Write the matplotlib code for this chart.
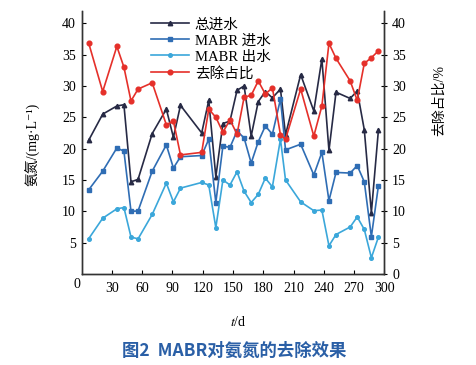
import matplotlib
matplotlib.use("Agg")
import matplotlib.pyplot as plt

plt.rcParams['font.family'] = ['Liberation Serif', 'Noto Sans CJK SC', 'DejaVu Sans']
plt.rcParams['mathtext.fontset'] = 'stix'
plt.rcParams['axes.unicode_minus'] = False

# sampling day
days = [7, 21, 35, 42, 49, 56, 70, 84, 91, 98, 119, 126, 133, 140, 147, 154, 161,
        168, 175, 182, 189, 197, 202, 217, 230, 238, 245, 252, 266, 273, 280, 287, 294]

# ammonia nitrogen, mg/L
total_in = [21.3, 25.5, 26.8, 27.0, 14.7, 15.1, 22.4, 26.3, 21.8, 26.9, 22.5, 27.7, 15.5,
            24.0, 24.4, 29.3, 30.0, 22.0, 27.5, 29.1, 28.1, 29.5, 22.2, 31.8, 26.0, 34.3,
            19.7, 29.0, 28.0, 29.2, 23.0, 9.8, 23.0]
mabr_in = [13.4, 16.4, 20.1, 19.6, 10.0, 10.05, 16.4, 20.6, 16.9, 18.7, 18.9, 21.5, 11.4,
           20.4, 20.2, 22.8, 21.7, 17.7, 21.1, 23.6, 22.3, 27.9, 19.8, 20.7, 15.8, 19.4,
           11.7, 16.2, 16.1, 17.3, 14.7, 5.95, 14.1]
mabr_out = [5.6, 8.9, 10.4, 10.6, 5.9, 5.6, 9.5, 14.5, 11.5, 13.7, 14.6, 14.2, 7.4,
            15.0, 14.2, 16.3, 13.2, 11.4, 12.7, 15.3, 13.9, 21.5, 15.0, 11.5, 10.1, 10.2,
            4.5, 6.3, 7.5, 9.1, 7.1, 2.6, 5.9]
# removal share, %
removal = [36.9, 29.1, 36.3, 33.0, 27.6, 29.5, 30.5, 23.8, 24.4, 19.0, 19.4, 26.3, 25.0,
           22.6, 24.6, 22.3, 28.2, 28.5, 30.8, 28.7, 29.7, 22.2, 21.5, 29.5, 22.0, 26.8,
           36.8, 34.4, 30.8, 27.7, 33.6, 34.5, 35.6]

x_ticks = [30, 60, 90, 120, 150, 180, 210, 240, 270, 300]
y_left_ticks = [5, 10, 15, 20, 25, 30, 35, 40]
y_right_ticks = [0, 5, 10, 15, 20, 25, 30, 35, 40]

W, H = 477, 365
fig = plt.figure(figsize=(W / 100, H / 100), dpi=100)
ax = fig.add_axes([81.5 / W, 1 - 274 / H, 303 / W, 263.3 / H])
ax2 = ax.twinx()

c_black = "#272a45"
c_dark = "#2f6db4"
c_light = "#3ba7da"
c_red = "#e5302a"

l1, = ax.plot(days, total_in, color=c_black, lw=1.2, marker='^', ms=3.2, label="总进水")
l2, = ax.plot(days, mabr_in, color=c_dark, lw=1.2, marker='s', ms=3.3, label="MABR 进水")
l3, = ax.plot(days, mabr_out, color=c_light, lw=1.2, marker='o', ms=2.6, label="MABR 出水")
l4, = ax2.plot(days, removal, color=c_red, lw=1.2, marker='o', ms=3.4, label="去除占比")

for a in (ax, ax2):
    a.set_xlim(0, 300)
    a.set_ylim(0, 42)
    a.spines['top'].set_visible(False)
    for s in a.spines.values():
        s.set_color("#333333")
        s.set_linewidth(1.0)

ax.set_xticks(x_ticks)
ax.set_yticks(y_left_ticks)
ax.tick_params(axis='x', direction='in', length=3, labelsize=10, pad=6)
ax.tick_params(axis='y', direction='in', length=3, labelsize=10, pad=4)
ax2.set_yticks(y_right_ticks)
ax2.tick_params(axis='y', direction='inout', length=5, labelsize=10, pad=3)

# shared origin label
fig.text(77 / W, 1 - 285 / H, "0", ha='center', va='center', fontsize=10)

fig.text(32 / W, 1 - 144 / H, "氨氮/(mg·L⁻¹)", rotation=90, ha='center', va='center', fontsize=10)
fig.text(439 / W, 1 - 100 / H, "去除占比/%", rotation=90, ha='center', va='center', fontsize=10)
fig.text(238 / W, 1 - 322 / H, "$t$/d", ha='center', va='center', fontsize=10)
fig.text(234 / W, 1 - 351 / H, "图2  MABR对氨氮的去除效果", ha='center', va='center',
         fontsize=12.5, color="#2a5fa6", family=['Noto Sans CJK SC'], fontweight='bold')

fig.legend(handles=[l1, l2, l3, l4], loc='upper left', bbox_to_anchor=(151 / W, 1 - 18 / H),
           frameon=False, fontsize=10.5, handlelength=2.6, handletextpad=0.4,
           labelspacing=0.2, borderpad=0, borderaxespad=0)

fig.savefig("out.png", dpi=100)
